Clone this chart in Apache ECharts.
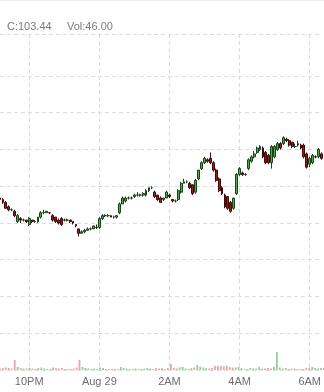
<!DOCTYPE html>
<html><head><meta charset="utf-8">
<script src="https://cdn.jsdelivr.net/npm/echarts@6/dist/echarts.min.js"></script>
<style>html,body{margin:0;padding:0;background:#fff}#c{width:324px;height:392px}</style>
</head><body><div id="c"></div>
<script>
// 5-minute bars, 21:10 -> 06:20
const startMinutes = 21 * 60 + 10;
const barCount = 111;
const categories = [];
for (let i = 0; i < barCount; i++) {
  const m = (startMinutes + i * 5) % 1440;
  categories.push(String(Math.floor(m / 60)).padStart(2, '0') + ':' + String(m % 60).padStart(2, '0'));
}
const tickTimes = ['22:00', '00:00', '02:00', '04:00', '06:00'];
const tickLabels = ['10PM', 'Aug 29', '2AM', '4AM', '6AM'];

const opens = [103.17,103.16,103.14,103.11,103.09,103.08,103.01,103.03,103.02,103.02,102.99,103.02,103.01,103.01,103.04,103.07,103.07,103.07,103.05,103.04,103.02,103.03,103.02,103.02,103.02,103.01,102.99,102.96,102.93,102.94,102.95,102.96,102.96,102.97,102.97,103.03,103.05,103.05,103.05,103.04,103.04,103.07,103.13,103.15,103.17,103.17,103.18,103.19,103.19,103.19,103.19,103.22,103.24,103.21,103.19,103.17,103.16,103.17,103.19,103.16,103.15,103.16,103.21,103.27,103.28,103.27,103.26,103.21,103.30,103.37,103.41,103.43,103.44,103.41,103.36,103.30,103.24,103.19,103.18,103.14,103.10,103.20,103.33,103.34,103.33,103.37,103.42,103.45,103.48,103.50,103.51,103.48,103.46,103.41,103.45,103.50,103.54,103.54,103.57,103.56,103.55,103.52,103.53,103.53,103.53,103.47,103.40,103.41,103.45,103.45,103.47];
const closes = [103.16,103.14,103.10,103.09,103.09,103.05,103.05,103.02,103.02,103.01,103.03,103.01,103.01,103.04,103.07,103.07,103.08,103.07,103.02,103.01,103.00,102.99,103.02,103.02,103.01,103.00,102.98,102.93,102.94,102.95,102.96,102.96,102.98,102.97,103.03,103.05,103.05,103.05,103.04,103.04,103.05,103.13,103.17,103.17,103.17,103.17,103.19,103.19,103.19,103.20,103.22,103.24,103.24,103.18,103.16,103.14,103.17,103.21,103.18,103.15,103.15,103.22,103.27,103.28,103.28,103.24,103.20,103.29,103.36,103.41,103.44,103.42,103.41,103.36,103.29,103.22,103.20,103.11,103.10,103.08,103.17,103.33,103.37,103.33,103.33,103.43,103.45,103.47,103.51,103.52,103.45,103.41,103.41,103.52,103.52,103.54,103.51,103.58,103.56,103.53,103.52,103.52,103.54,103.51,103.45,103.38,103.44,103.46,103.45,103.50,103.44];
const lows = [103.16,103.13,103.10,103.08,103.08,103.04,103.00,103.00,103.01,103.00,102.98,103.00,103.00,103.00,103.03,103.06,103.07,103.06,103.01,103.00,102.99,102.98,103.01,103.01,103.00,102.99,102.97,102.91,102.93,102.93,102.95,102.95,102.96,102.96,102.96,103.02,103.04,103.04,103.04,103.03,103.03,103.06,103.13,103.14,103.16,103.16,103.17,103.18,103.18,103.18,103.18,103.21,103.23,103.17,103.15,103.14,103.15,103.17,103.17,103.14,103.14,103.15,103.20,103.27,103.27,103.23,103.19,103.20,103.29,103.36,103.40,103.41,103.40,103.35,103.28,103.21,103.19,103.10,103.09,103.07,103.09,103.19,103.32,103.32,103.32,103.36,103.41,103.44,103.47,103.49,103.44,103.40,103.40,103.37,103.44,103.49,103.50,103.53,103.55,103.52,103.51,103.51,103.52,103.50,103.44,103.37,103.38,103.40,103.44,103.44,103.43];
const highs = [103.18,103.17,103.15,103.12,103.10,103.09,103.06,103.04,103.03,103.02,103.04,103.02,103.02,103.04,103.08,103.09,103.08,103.07,103.06,103.04,103.03,103.04,103.03,103.03,103.02,103.01,102.99,102.96,102.95,102.96,102.97,102.97,102.98,102.99,103.04,103.06,103.06,103.06,103.05,103.05,103.05,103.14,103.18,103.18,103.18,103.18,103.20,103.21,103.20,103.21,103.23,103.24,103.25,103.22,103.19,103.18,103.17,103.22,103.20,103.16,103.16,103.23,103.28,103.30,103.29,103.28,103.26,103.30,103.36,103.42,103.45,103.44,103.48,103.42,103.37,103.31,103.25,103.20,103.18,103.15,103.17,103.34,103.38,103.35,103.34,103.44,103.46,103.49,103.52,103.53,103.52,103.49,103.47,103.53,103.53,103.55,103.55,103.59,103.58,103.57,103.55,103.54,103.56,103.54,103.54,103.48,103.45,103.47,103.46,103.51,103.48];
const volumes = [30,40,50,40,30,200,60,40,30,30,40,30,20,40,50,30,20,20,50,40,30,40,20,20,20,30,50,200,60,40,30,20,30,20,50,40,20,20,20,20,20,60,40,30,20,20,30,20,20,30,40,30,20,40,30,40,20,40,120,40,30,50,60,30,20,40,50,100,60,50,40,30,40,80,80,80,70,80,60,50,50,60,40,20,20,40,30,30,60,30,30,40,30,60,360,50,30,40,20,30,30,20,20,20,40,50,60,40,30,40,46];

const lastClose = '103.44';
const lastVol = '46.00';

const candleData = opens.map((o, i) => [o, closes[i], lows[i], highs[i]]);
const volData = volumes.map((v, i) => ({
  value: v,
  itemStyle: { color: closes[i] >= opens[i] ? 'rgba(110,190,110,0.75)' : 'rgba(235,130,130,0.75)' }
}));

const gridLine = '#dcdcdc';
const splitColors = [gridLine,gridLine,gridLine,gridLine,gridLine,gridLine,gridLine,gridLine,gridLine,'rgba(0,0,0,0)',gridLine];

const chart = echarts.init(document.getElementById('c'), null, { renderer: 'canvas' });
chart.setOption({
  animation: false,
  backgroundColor: '#fff',
  grid: [
    { left: 0, right: 0, top: 34, bottom: 22 },
    { left: 0, right: 0, bottom: 22, height: 60 }
  ],
  xAxis: [
    {
      type: 'category', data: categories, boundaryGap: false, gridIndex: 0,
      axisLine: { show: false }, axisTick: { show: false },
      axisLabel: {
        interval: (idx, val) => tickTimes.includes(val),
        formatter: (val) => { const k = tickTimes.indexOf(val); return k >= 0 ? tickLabels[k] : ''; },
        color: '#6e6e6e', fontSize: 11, fontFamily: 'Liberation Sans, Arial, sans-serif', margin: 6
      },
      splitLine: { show: true, interval: (idx, val) => tickTimes.includes(val), lineStyle: { color: gridLine, type: [4, 3], width: 1 } }
    },
    {
      type: 'category', data: categories, boundaryGap: false, gridIndex: 1,
      axisLine: { show: false }, axisTick: { show: false }, axisLabel: { show: false }, splitLine: { show: false }
    }
  ],
  yAxis: [
    {
      type: 'value', gridIndex: 0, min: 102, max: 104.2857, interval: 0.25,
      axisLine: { show: false }, axisTick: { show: false }, axisLabel: { show: false },
      splitLine: { show: true, lineStyle: { color: splitColors, type: [4, 3], width: 1 } }
    },
    {
      type: 'value', gridIndex: 1, min: 0, max: 1200,
      axisLine: { show: false }, axisTick: { show: false }, axisLabel: { show: false }, splitLine: { show: false }
    }
  ],
  series: [
    {
      type: 'candlestick', xAxisIndex: 0, yAxisIndex: 0, data: candleData, barWidth: '80%',
      itemStyle: { color: '#3fb43f', color0: '#a01a1a', borderColor: '#1c421c', borderColor0: '#3d0a0a', borderWidth: 1 }
    },
    {
      type: 'bar', xAxisIndex: 1, yAxisIndex: 1, data: volData, barWidth: '60%'
    }
  ],
  graphic: [
    { type: 'rect', left: 0, top: 0, shape: { width: 324, height: 1 }, style: { fill: '#ececec' } },
    { type: 'text', left: 7, top: 21, style: { text: 'C:' + lastClose, fill: '#7a7a7a', font: '11px "Liberation Sans", Arial, sans-serif' } },
    { type: 'text', left: 67, top: 21, style: { text: 'Vol:' + lastVol, fill: '#7a7a7a', font: '11px "Liberation Sans", Arial, sans-serif' } }
  ]
});
</script>
</body></html>
